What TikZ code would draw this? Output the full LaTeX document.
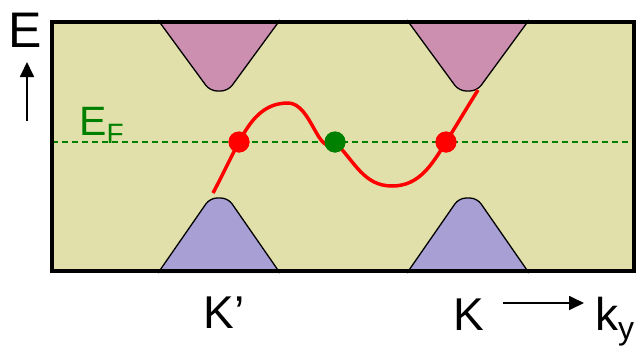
\documentclass[tikz,border=0pt]{standalone}
\usepackage{fontspec}
\setmainfont{Liberation Sans}
\usetikzlibrary{arrows.meta}
\definecolor{bgyel}{HTML}{E2E0AA}
\definecolor{pinkband}{HTML}{CC8FB0}
\definecolor{purpband}{HTML}{A8A0D5}
\definecolor{efgreen}{HTML}{008000}
\tikzset{
  band/.style={draw=black, line width=1.3pt, rounded corners=7pt},
  efline/.style={efgreen, line width=1.5pt, dash pattern=on 6pt off 4pt},
  dot/.style={circle, inner sep=0pt, minimum size=21pt},
  lab/.style={inner sep=0pt, anchor=base},
  axarrow/.style={line width=1.8pt, -{Triangle[length=15pt,width=14pt]}}
}
\begin{document}
\begin{tikzpicture}[x=1pt,y=-1pt]
\useasboundingbox (0,0) rectangle (638,346);
\fill[bgyel] (52,22) rectangle (634,271);
% conduction bands
\filldraw[band, fill=pinkband] (158,20) -- (210,91) -- (228,91) -- (280,20);
\filldraw[band, fill=pinkband] (407,20) -- (459,91) -- (477,91) -- (529,20);
% valence bands
\filldraw[band, fill=purpband] (158,273) -- (210,198) -- (228,198) -- (280,273);
\filldraw[band, fill=purpband] (407,273) -- (459,198) -- (477,198) -- (529,273);
% Fermi level
\draw[efline] (52,142) -- (634,142);
% dots
\node[dot, fill=red] (d1) at (239,142) {};
\node[dot, fill=efgreen] (d2) at (335,142) {};
\node[dot, fill=red] (d3) at (446,142) {};
\coordinate (s) at (213,193);
\coordinate (e) at (478,90);
\draw[red, line width=3.5pt]
  (s) to[out=62,in=-118] (d1.center)
      to[out=62,in=180] (288,103)
      to[out=0,in=-135] (d2.center)
      to[out=-45,in=180] (392,186)
      to[out=0,in=-122] (d3.center)
      to[out=58,in=-122] (e);
\fill[red] (d1) circle (10.5pt);
\fill[efgreen] (d2) circle (10.5pt);
\fill[red] (d3) circle (10.5pt);
% frame
\draw[line width=4pt] (52,22) rectangle (634,271);
% labels
\node[lab, font=\fontsize{50}{50}\selectfont] (E) at (25,47) {E};
\coordinate (ea) at (27,121);
\coordinate (eb) at (27,62);
\draw[axarrow] (ea) -- (eb);
\node[lab, anchor=base west, text=efgreen, font=\fontsize{41}{41}\selectfont] (EF) at (79,135) {E\raisebox{-8pt}{\fontsize{28}{28}\selectfont F}};
\node[lab, font=\fontsize{46}{46}\selectfont] (Kp) at (224,328) {K’};
\node[lab, font=\fontsize{46}{46}\selectfont] (K) at (469,330) {K};
\node[lab, anchor=base west, font=\fontsize{46}{46}\selectfont] (ky) at (595,330) {k\raisebox{-9pt}{\fontsize{32}{32}\selectfont y}};
\draw[axarrow] (503,303) -- (584,303);
\end{tikzpicture}
\end{document}
